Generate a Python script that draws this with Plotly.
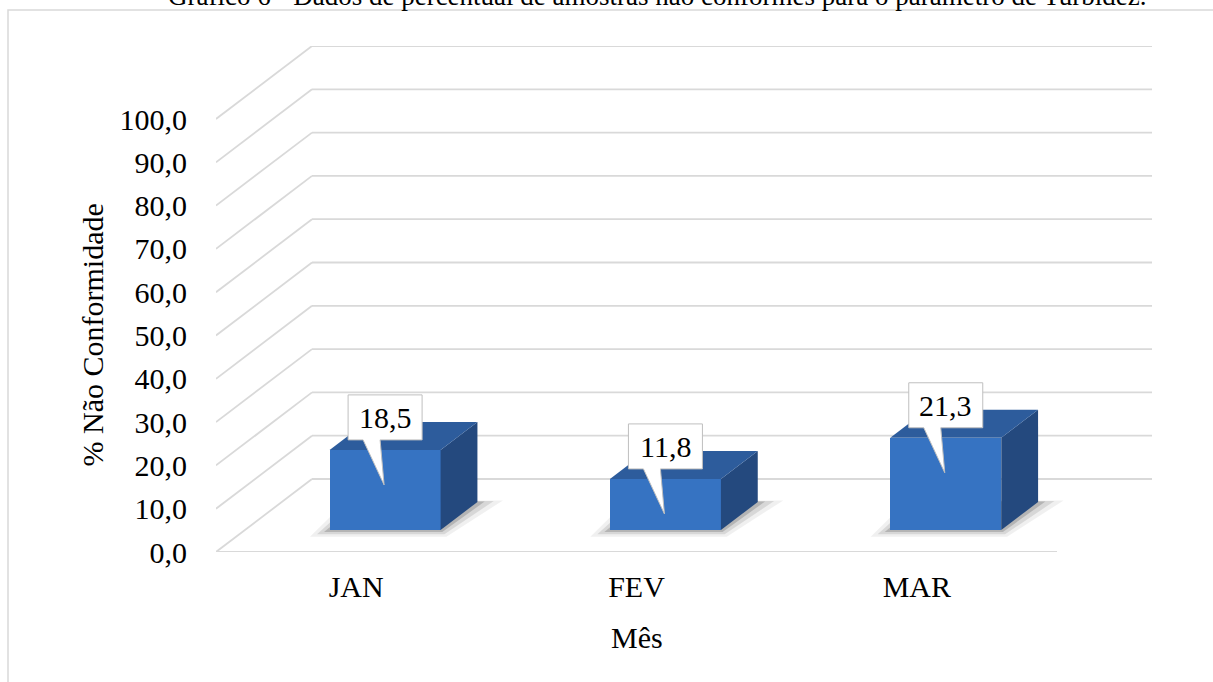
import plotly.graph_objects as go

# Data
meses = ["JAN", "FEV", "MAR"]
nao_conformidade = [18.5, 11.8, 21.3]
rotulos = ["18,5", "11,8", "21,3"]
y_ticks = [0, 10, 20, 30, 40, 50, 60, 70, 80, 90, 100]
y_ticktext = ["0,0", "10,0", "20,0", "30,0", "40,0", "50,0", "60,0", "70,0", "80,0", "90,0", "100,0"]

FONT = "Liberation Serif, Times New Roman, serif"
GRID = "#D9D9D9"

# pixel scale of the plot area (front plane)
PXX = 841 / 3      # px per category
PXY = 4.33         # px per percent
DX, DY = 96 / PXX, 73 / PXY          # depth of the 3D box
FX, FY = DX * 22 / 73, DY * 22 / 73  # bar front offset into depth
BX, BY = DX * 28 / 73, DY * 28 / 73  # bar depth
HALF = 55.5 / PXX

fig = go.Figure()

# back wall gridlines, left wall diagonals, floor front edge (drawn under the bars)
for v in y_ticks:
    fig.add_shape(type="line", x0=DX, x1=len(meses) + DX, y0=v + DY, y1=v + DY,
                  line=dict(color=GRID, width=1.8), layer="below")
    fig.add_shape(type="line", x0=0, x1=DX, y0=v, y1=v + DY,
                  line=dict(color=GRID, width=1.8), layer="below")
fig.add_shape(type="line", x0=0, x1=len(meses), y0=0, y1=0,
              line=dict(color=GRID, width=1.8), layer="below")

centers = [i + 0.5 + FX for i in range(len(meses))]

# soft floor shadows
for i, v in enumerate(nao_conformidade):
    xl, xr = centers[i] - HALF, centers[i] + HALF
    for grow, alpha in [(0.07, 0.06), (0.045, 0.10), (0.02, 0.16)]:
        pts = [(xl - grow, FY - grow * 22), (xr + grow * 0.3, FY - grow * 22),
               (xr + BX + grow * 1.3, FY + BY + grow * 5), (xl + BX - grow, FY + BY + grow * 5)]
        path = "M " + " L ".join(f"{px},{py}" for px, py in pts) + " Z"
        fig.add_shape(type="path", path=path, fillcolor=f"rgba(0,0,0,{alpha})",
                      line=dict(width=0), layer="below")

# front faces of the bars
fig.add_trace(go.Bar(x=centers, y=nao_conformidade, base=[FY] * len(meses),
                     width=2 * HALF, marker=dict(color="#3673C2", line=dict(width=0)),
                     hoverinfo="skip", showlegend=False))

for i, v in enumerate(nao_conformidade):
    xl, xr = centers[i] - HALF, centers[i] + HALF
    top = FY + v
    # right side face
    fig.add_trace(go.Scatter(
        x=[xr, xr + BX, xr + BX, xr, xr], y=[FY, FY + BY, top + BY, top, FY],
        fill="toself", fillcolor="#24497E", mode="none",
        hoverinfo="skip", showlegend=False))
    # top face
    fig.add_trace(go.Scatter(
        x=[xl, xr, xr + BX, xl + BX, xl], y=[top, top, top + BY, top + BY, top],
        fill="toself", fillcolor="#2D5C9C", mode="none",
        hoverinfo="skip", showlegend=False))

    # callout label
    cx = centers[i]
    yb = top + 10 / PXY
    yt = yb + 45 / PXY
    w = 37 / PXX
    fig.add_trace(go.Scatter(
        x=[cx - w, cx - w, cx + w, cx + w, cx - 5 / PXX, cx - 1 / PXX, cx - 22 / PXX, cx - w],
        y=[yb, yt, yt, yb, yb, yb - 45 / PXY, yb, yb],
        fill="toself", fillcolor="white", mode="lines",
        line=dict(color="#BFBFBF", width=1), hoverinfo="skip", showlegend=False))
    fig.add_annotation(x=cx, y=(yb + yt) / 2, text=rotulos[i], showarrow=False,
                       font=dict(family=FONT, size=30, color="black"))

# axis titles
fig.add_annotation(x=1.5, y=(552 - 637) / 506, xref="x", yref="paper", text="Mês",
                   yanchor="middle", xanchor="center",
                   showarrow=False, font=dict(family=FONT, size=30, color="black"))
fig.add_annotation(x=(92 - 216) / 936, y=50, xref="paper", yref="y", text="% Não Conformidade",
                   xanchor="center", yanchor="middle",
                   textangle=-90, showarrow=False, font=dict(family=FONT, size=30, color="black"))

# chart title (partly cut off at the top of the page)
fig.add_annotation(x=(657 - 216) / 936, y=(552 - 13) / 506, xref="paper", yref="paper",
                   yanchor="bottom", xanchor="center",
                   text="Gráfico 6 - Dados de percentual de amostras não conformes para o parâmetro de Turbidez.",
                   showarrow=False, font=dict(family=FONT, size=27, color="black"))

# outer frame
fig.add_shape(type="path", xref="paper", yref="paper",
              path=f"M {(8 - 216) / 936} -0.5 L {(8 - 216) / 936} {(552 - 10) / 506} L 1.2 {(552 - 10) / 506}",
              line=dict(color="#D9D9D9", width=1.5))

fig.update_layout(
    width=1213, height=682,
    margin=dict(l=216, r=61, t=46, b=130),
    plot_bgcolor="white", paper_bgcolor="white",
    font=dict(family=FONT, size=30, color="black"),
    xaxis=dict(range=[0, 936 / PXX], tickvals=[0.5, 1.5, 2.5], ticktext=meses,
               showgrid=False, zeroline=False, showline=False, ticks="",
               ticklabelstandoff=14, tickfont=dict(family=FONT, size=30)),
    yaxis=dict(range=[0, 506 / PXY], tickvals=y_ticks, ticktext=y_ticktext,
               showgrid=False, zeroline=False, showline=False, ticks="",
               ticklabelstandoff=28, tickfont=dict(family=FONT, size=30)),
    bargap=0,
)

fig.write_html("out.html", config={"displayModeBar": False},
               post_script="document.body.style.margin='0';")
